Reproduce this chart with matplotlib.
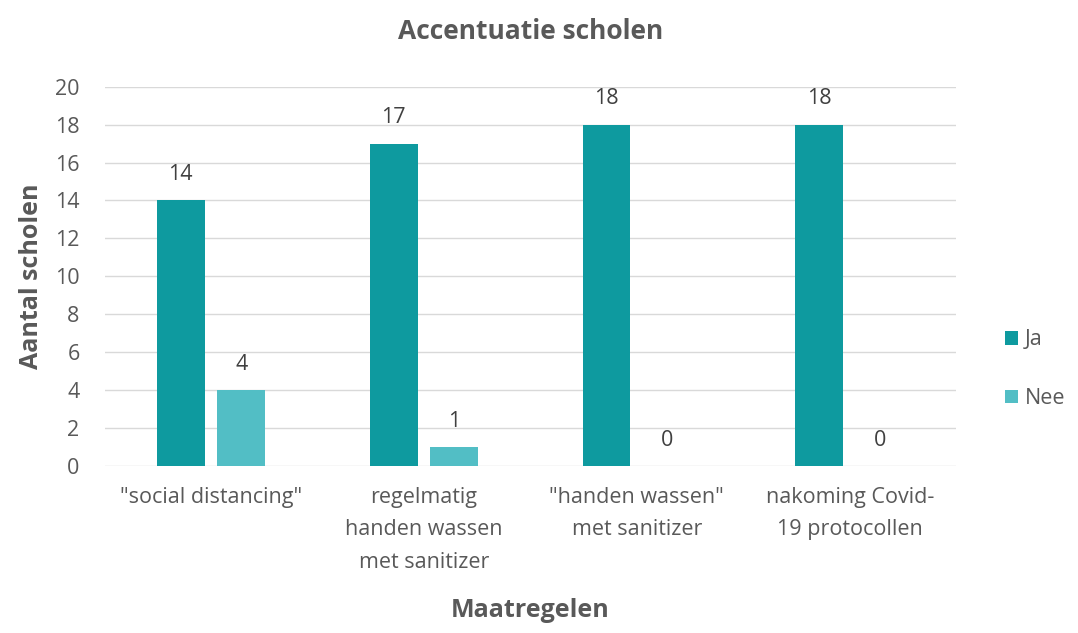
import numpy as np
import matplotlib.pyplot as plt

plt.rcParams['font.family'] = ['Open Sans', 'DejaVu Sans']

categories = ['"social distancing"', 'regelmatig\nhanden wassen\nmet sanitizer',
              '"handen wassen"\nmet sanitizer', 'nakoming Covid-\n19 protocollen']
ja = [14, 17, 18, 18]
nee = [4, 1, 0, 0]
yticks = list(range(0, 21, 2))

grey = '#595959'
c_ja = '#0e9a9f'
c_nee = '#52bec5'

fig = plt.figure(figsize=(10.78, 6.33), dpi=100)
ax = fig.add_axes([0.097, 0.264, 0.79, 0.599])

x = np.arange(len(categories))
w = 0.225
gap = 0.06
b1 = ax.bar(x - (w + gap) / 2, ja, w, color=c_ja, label='Ja', zorder=3)
b2 = ax.bar(x + (w + gap) / 2, nee, w, color=c_nee, label='Nee', zorder=3)

for bars in (b1, b2):
    for r in bars:
        ax.annotate(str(int(r.get_height())), (r.get_x() + r.get_width() / 2, r.get_height()),
                    xytext=(0, 11), textcoords='offset points', ha='center', va='bottom',
                    fontsize=15.5, color='#404040')

ax.set_xlim(-0.5, len(categories) - 0.5)
ax.set_ylim(0, 20)
ax.set_yticks(yticks)
ax.yaxis.grid(True, color='#d9d9d9', linewidth=1, zorder=0)
for s in ax.spines.values():
    s.set_visible(False)
ax.tick_params(axis='both', length=0, colors=grey, labelsize=15.5)
ax.tick_params(axis='y', pad=18)
ax.tick_params(axis='x', pad=15)
ax.set_xticks(x)
ax.set_xticklabels(categories, linespacing=1.72, va='top')

ax.set_title('Accentuatie scholen', fontsize=19, fontweight='bold', color=grey, pad=34)
ax.set_xlabel('Maatregelen', fontsize=18, fontweight='bold', color=grey, labelpad=18)
ax.set_ylabel('Aantal scholen', fontsize=18, fontweight='bold', color=grey, labelpad=8)

leg = ax.legend(loc='center left', bbox_to_anchor=(1.035, 0.255), frameon=False,
                fontsize=15.5, handlelength=0.6, handleheight=0.6, handletextpad=0.3,
                labelspacing=1.75, labelcolor=grey)

fig.savefig('out.png', dpi=100)
